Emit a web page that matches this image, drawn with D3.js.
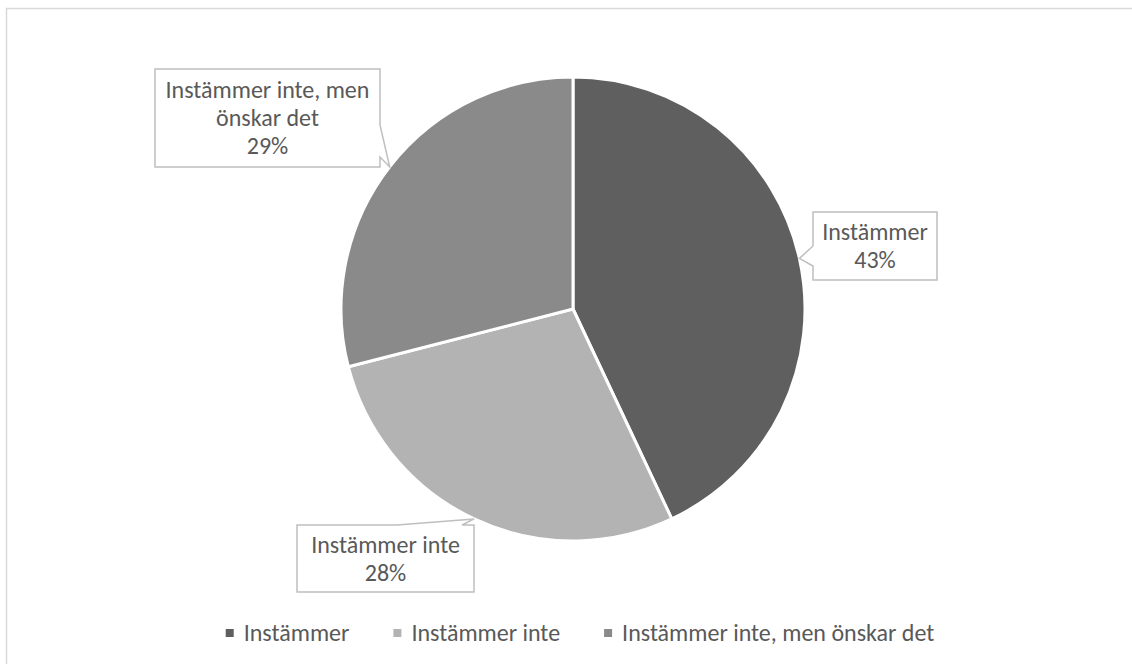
<!DOCTYPE html>
<html>
<head>
<meta charset="utf-8">
<script src="https://cdn.jsdelivr.net/npm/d3@7"></script>
<style>
  body { margin: 0; background: #fff; }
  text { font-family: Carlito, Lato, "Open Sans", sans-serif; }
</style>
</head>
<body>
<svg id="chart" width="1132" height="664"></svg>
<script>
// Survey answers and their shares (percent)
const categories = ["Instämmer", "Instämmer inte", "Instämmer inte, men önskar det"];
const shares = [43, 28, 29];
const labelLines = [["Instämmer"], ["Instämmer inte"], ["Instämmer inte, men", "önskar det"]];
const colors = ["#5f5f5f", "#b3b3b3", "#8a8a8a"];

const svg = d3.select("#chart");
const textColor = "#595959";
const fontSize = 24;
const lineGap = 28;

// Chart area frame
svg.append("rect")
  .attr("x", 6.5).attr("y", 8.5)
  .attr("width", 1140).attr("height", 680)
  .attr("fill", "#fff")
  .attr("stroke", "#d9d9d9").attr("stroke-width", 1.5);

const cx = 573, cy = 309, R = 232;
const g = svg.append("g").attr("transform", `translate(${cx},${cy})`);

const pie = d3.pie().sort(null).value(d => d);
const arcs = pie(shares);
const arc = d3.arc().innerRadius(0).outerRadius(R);

g.selectAll("path.slice")
  .data(arcs)
  .join("path")
  .attr("class", "slice")
  .attr("d", arc)
  .attr("fill", (d, i) => colors[i])
  .attr("stroke", "#fff")
  .attr("stroke-width", 3)
  .attr("stroke-linejoin", "round");

// Callout boxes: box rectangle plus the edge the pointer leaves from
const callouts = [
  { x: 813, y: 212, w: 124, h: 68, side: "left",  a: 246, b: 266 },
  { x: 297, y: 525, w: 177, h: 67, side: "top",   a: 397, b: 462 },
  { x: 155, y: 69,  w: 225, h: 98, side: "right", a: 125, b: 157 }
];

function calloutPath(c, tip) {
  const x0 = c.x, y0 = c.y, x1 = c.x + c.w, y1 = c.y + c.h;
  const p = d3.path();
  p.moveTo(x0, y0);
  if (c.side === "top") { p.lineTo(c.a, y0); p.lineTo(tip[0], tip[1]); p.lineTo(c.b, y0); }
  p.lineTo(x1, y0);
  if (c.side === "right") { p.lineTo(x1, c.a); p.lineTo(tip[0], tip[1]); p.lineTo(x1, c.b); }
  p.lineTo(x1, y1);
  p.lineTo(x0, y1);
  if (c.side === "left") { p.lineTo(x0, c.b); p.lineTo(tip[0], tip[1]); p.lineTo(x0, c.a); }
  p.closePath();
  return p.toString();
}

arcs.forEach((d, i) => {
  const c = callouts[i];
  const mid = (d.startAngle + d.endAngle) / 2;
  const tip = [cx + R * Math.sin(mid), cy - R * Math.cos(mid)];
  svg.append("path")
    .attr("d", calloutPath(c, tip))
    .attr("fill", "#fff")
    .attr("stroke", "#bfbfbf")
    .attr("stroke-width", 1.5)
    .attr("stroke-linejoin", "miter");

  const lines = labelLines[i].concat([Math.round(d.data) + "%"]);
  const first = c.y + (c.h - (lines.length - 1) * lineGap) / 2 + 8;
  const t = svg.append("text")
    .attr("text-anchor", "middle")
    .attr("font-size", fontSize)
    .attr("fill", textColor);
  lines.forEach((ln, k) => {
    t.append("tspan")
      .attr("x", c.x + c.w / 2)
      .attr("y", first + k * lineGap)
      .text(ln);
  });
});

// Legend
const legend = svg.append("g");
const legendY = 641, sq = 8, gapAfterSq = 10, gapItems = 44;
let lx = 0;
categories.forEach((name, i) => {
  const it = legend.append("g");
  it.append("rect")
    .attr("x", 0).attr("y", legendY - 12)
    .attr("width", sq).attr("height", sq)
    .attr("fill", colors[i]);
  const tx = it.append("text")
    .attr("x", sq + gapAfterSq).attr("y", legendY)
    .attr("font-size", fontSize)
    .attr("fill", textColor)
    .text(name);
  const w = sq + gapAfterSq + tx.node().getComputedTextLength();
  it.attr("transform", `translate(${lx},0)`);
  lx += w + gapItems;
});
const legendW = lx - gapItems;
legend.attr("transform", `translate(${580 - legendW / 2},0)`);
</script>
</body>
</html>
